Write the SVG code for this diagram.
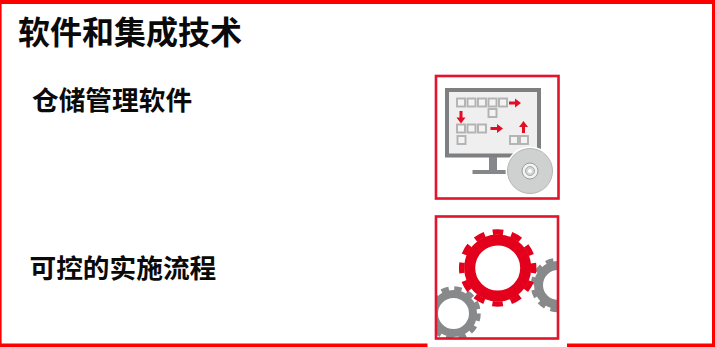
<svg xmlns="http://www.w3.org/2000/svg" width="715" height="347" viewBox="0 0 715 347">
<style>
.t{font-family:"Noto Sans CJK SC","Liberation Sans",sans-serif;font-weight:700;fill:#0a0a0a}
.f{fill:none;stroke:#e2132b;stroke-width:2.6}
.s{fill:#f3f3f3;stroke:#b2b2b2;stroke-width:1.9}
.a{fill:none;stroke:#e30f26;stroke-width:3}
.h{fill:#e30f26}
.red{fill:none;stroke:#e2001a}
.gr{fill:none;stroke:#87898b}
</style>
<defs>
<filter id="b" x="-5%" y="-5%" width="110%" height="110%"><feGaussianBlur stdDeviation="0.6"/></filter>
<clipPath id="c"><rect x="436" y="217" width="122" height="121"/></clipPath>
</defs>
<rect width="715" height="347" fill="#fff"/>
<g id="frame" fill="#f00">
<rect x="0" y="0" width="715" height="4"/>
<rect x="0" y="0" width="1.6" height="347"/>
<rect x="712" y="0" width="3" height="347"/>
<rect x="0" y="343.500" width="427.500" height="3.500"/>
<rect x="567" y="343.500" width="148" height="3.500"/>
</g>
<g id="title"><text class="t" x="18" y="44" font-size="32">软件和集成技术</text></g>
<g id="label-wms"><text class="t" x="32" y="110" font-size="26.700">仓储管理软件</text></g>
<g id="label-process"><text class="t" x="29.500" y="277.500" font-size="26.700">可控的实施流程</text></g>
<g id="icon-software" filter="url(#b)">
<rect x="436" y="76" width="122.500" height="122.500" class="f" style="fill:#fff"/>
<rect x="447" y="90" width="92" height="65.500" fill="#efefef" stroke="#7d7f81" stroke-width="4"/>
<rect x="489" y="157" width="8" height="14" fill="#85878a"/>
<rect x="472.500" y="170" width="36" height="4" fill="#85878a"/>
<g>
<rect class="s" x="457" y="98.500" width="8" height="8"/><rect class="s" x="467.500" y="98.500" width="8" height="8"/><rect class="s" x="478" y="98.500" width="8" height="8"/><rect class="s" x="488.500" y="98.500" width="8" height="8"/><rect class="s" x="499" y="98.500" width="8" height="8"/>
<rect class="s" x="488.500" y="109" width="8" height="8"/>
<rect class="s" x="457" y="124.500" width="8" height="8"/><rect class="s" x="467.500" y="124.500" width="8" height="8"/><rect class="s" x="478" y="124.500" width="8" height="8"/>
<rect class="s" x="457.500" y="136" width="8" height="8"/>
<rect class="s" x="510" y="136" width="8" height="8"/><rect class="s" x="520" y="136" width="8" height="8"/>
</g>
<path class="a" d="M509 103H516M490.500 128.500H498M461 111V118M523.500 133V126"/>
<path class="h" d="M515 98.500L521 103L515 107.500ZM497 124L503 128.500L497 133ZM456.500 117.500L461 123.500L465.500 117.500ZM519 127L523.500 121L528 127Z"/>
<circle cx="530" cy="171" r="24.500" fill="#fff"/>
<circle cx="530" cy="171" r="22.500" fill="#cfd0d0" stroke="#b4b5b6" stroke-width="1"/>
<circle cx="530" cy="171" r="8" fill="#f2f2f2" stroke="#9b9c9d" stroke-width="1"/>
<circle cx="530" cy="171" r="4.500" fill="#d6d6d6" stroke="#a8a8a8" stroke-width="1"/>
<circle cx="530" cy="171" r="2" fill="#fff"/>
</g>
<g id="icon-gears" filter="url(#b)">
<rect x="436" y="216.500" width="122" height="122" fill="#fff"/>
<g clip-path="url(#c)">
<circle class="gr" cx="453.500" cy="313.500" r="19.500" stroke-width="8"/>
<circle class="gr" cx="453.500" cy="313.500" r="25" stroke-width="4.500" stroke-dasharray="7.500 5.590"/>
<circle class="gr" cx="558" cy="285" r="19.500" stroke-width="9"/>
<circle class="gr" cx="558" cy="285" r="25" stroke-width="4.500" stroke-dasharray="7.500 5.590"/>
</g>
<circle class="red" cx="497.700" cy="268" r="28" stroke-width="11"/>
<circle class="red" cx="497.700" cy="268" r="36" stroke-width="5.500" stroke-dasharray="10.500 8.350" stroke-dashoffset="5.250"/>
<rect x="436" y="216.500" width="122" height="122" class="f"/>
</g>
</svg>
